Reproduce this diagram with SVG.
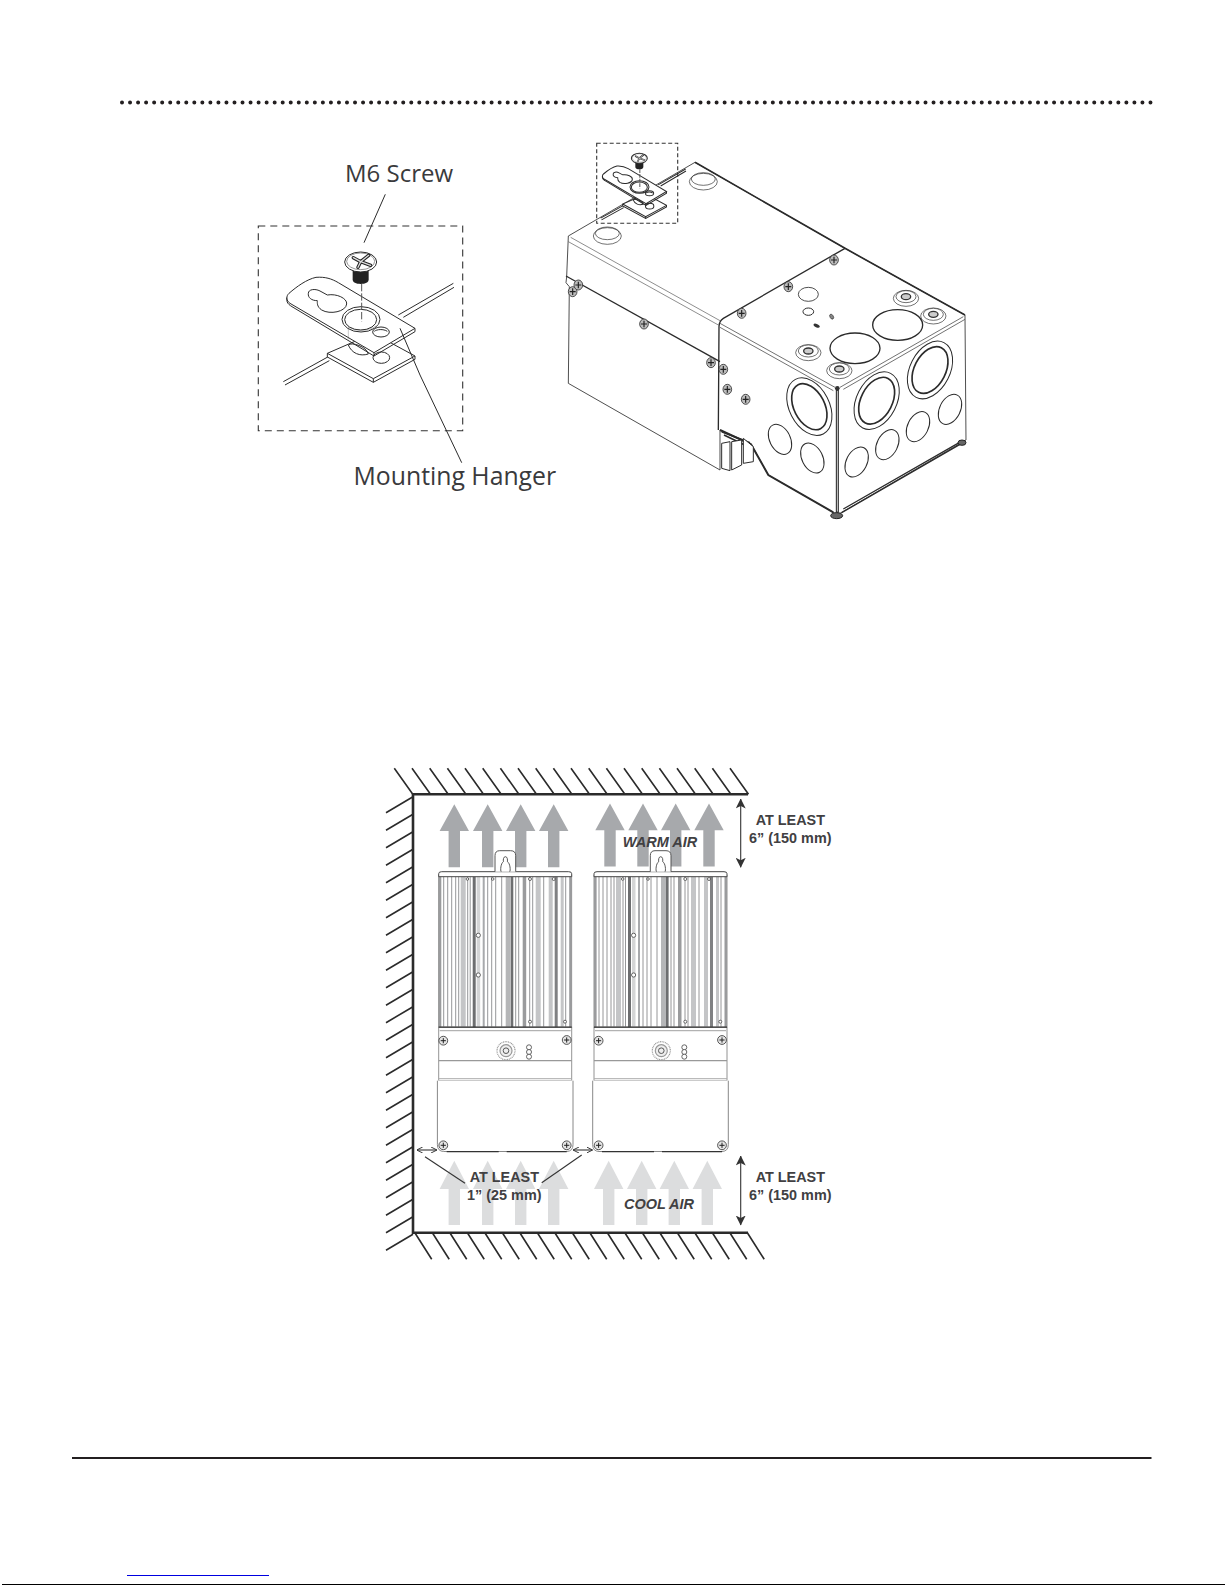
<svg xmlns="http://www.w3.org/2000/svg" xmlns:xlink="http://www.w3.org/1999/xlink" width="1225" height="1585" viewBox="0 0 1225 1585">
<style>
.o{fill:none;stroke:#2b2b2b}
.w{fill:#fff;stroke:#2b2b2b}
.lt{fill:none;stroke:#555}
.lab{font-family:"Open Sans","Noto Sans",sans-serif;fill:#3a3a3c}
.b{font-family:"Liberation Sans",Arial,sans-serif;font-weight:bold;font-size:14.4px;fill:#414042;text-anchor:middle}
.i{font-style:italic;font-size:14.5px}
.warm{fill:#a7a9ac}
.cool{fill:#dcddde}
.hatch{stroke:#2b2b2b;stroke-width:1.6;fill:none}
.wall{stroke:#2b2b2b;stroke-width:2.6;fill:none}
.dim{stroke:#333;stroke-width:1.1;fill:none}
.fin{stroke:#8a8b8d;stroke-width:.9;fill:none}
</style>
<defs>
<marker id="ah" viewBox="0 0 10 10" refX="9.5" refY="5" markerWidth="10" markerHeight="10" markerUnits="userSpaceOnUse" orient="auto-start-reverse"><path d="M0,0 L10,5 L0,10 L2.5,5 Z" fill="#333"/></marker>
<marker id="ahs" viewBox="0 0 10 10" refX="9.5" refY="5" markerWidth="6" markerHeight="6" markerUnits="userSpaceOnUse" orient="auto-start-reverse"><path d="M0,0 L10,5 L0,10" fill="none" stroke="#333" stroke-width="1.6"/></marker>
<path id="up" d="M0,0 L14.7,26.7 L5.7,26.7 L5.7,63 L-5.7,63 L-5.7,26.7 L-14.7,26.7 Z"/>
<path id="upc" d="M0,0 L14.7,28.3 L5.7,28.3 L5.7,64.3 L-5.7,64.3 L-5.7,28.3 L-14.7,28.3 Z"/>
<g id="hw"><ellipse cx="0" cy="0" rx="38" ry="24" class="w" stroke-width="2"/><ellipse cx="0" cy="-5" rx="30" ry="18" class="w" stroke-width="2"/><ellipse cx="0" cy="-5" rx="14" ry="9" fill="#ccc" stroke="#333" stroke-width="4"/></g>
<g id="sc"><ellipse rx="13" ry="15" fill="#bbb" stroke="#333" stroke-width="2.500"/><path d="M-9,0H9M0,-10V10" stroke="#222" stroke-width="3.500"/></g>
<g id="hanger">
<path class="o" d="M475,555 L640,460 M490,562 L642,472 M130,755 L265,680 M135,765 L268,692"/>
<path class="w" d="M262,670 L262,681 L400,757 L525,688 L525,678 L400,610 Z"/>
<path class="o" d="M262,670 L400,746 L525,678 M400,746 V757"/>
<path class="w" d="M325,645 C335,635 380,650 385,672 C360,680 335,670 325,645 Z"/>
<ellipse class="w" cx="424" cy="683" rx="25" ry="17"/>
<path class="w" d="M147,490 C170,470 200,448 228,442 C255,440 275,446 295,458 L525,595 L402,668 L150,520 C138,512 138,498 147,490 Z"/>
<path class="o" d="M140,503 L141,514 C143,522 150,526 156,530 L402,678 L525,605 L525,595 M402,668 V678"/>
<path class="o" d="M205,490 C205,478 225,475 240,483 L262,495 C290,490 322,505 320,522 C318,545 270,555 245,540 C230,530 232,518 232,512 C215,512 203,503 205,490 Z"/>
<ellipse class="o" cx="363" cy="568" rx="57" ry="38"/>
<ellipse class="o" cx="362" cy="569" rx="48" ry="31"/>
<path class="lt" d="M325,590 V628 M325,590 C345,605 385,605 408,588" stroke-width="1"/>
<ellipse class="w" cx="423" cy="606" rx="25" ry="15"/>
<path class="o" d="M403,604 C410,598 430,596 442,604"/>
<path d="M365,462 V575" class="lt" stroke-dasharray="22 6"/>
<path d="M338,420 H386 V448 C386,458 376,462 362,462 C348,462 338,458 338,448 Z" fill="#222"/>
<ellipse class="w" cx="362" cy="396" rx="48" ry="30"/>
<ellipse class="o" cx="362" cy="394" rx="42" ry="25" stroke-width="1.500"/>
<path d="M340,383 L362,395 L386,376 M362,395 L354,412 M362,395 L392,406" fill="none" stroke="#222" stroke-width="10" stroke-linejoin="round" stroke-linecap="round"/>
<path d="M340,383 L362,395 L386,376 M362,395 L354,412 M362,395 L392,406" fill="none" stroke="#ddd" stroke-width="4" stroke-linejoin="round" stroke-linecap="round"/>
</g>
<g id="inv">
<rect x="0" y="4" width="133" height="151.5" fill="#fff" stroke="#777" stroke-width=".8"/>
<g fill="#9a9b9d">
<rect x="0" y="4.5" width="2.6" height="151"/><rect x="34" y="4.5" width="3" height="151" fill="#6d6e70"/><rect x="72" y="4.5" width="2.600" height="151" fill="#6d6e70"/><rect x="84" y="4.5" width="3.500" height="151"/><rect x="116" y="4.5" width="3" height="151" fill="#808183"/><rect x="130.500" y="4.500" width="2.500" height="151"/>
<rect x="22" y="4.5" width="5" height="151" fill="#c4c5c7"/><rect x="67" y="4.5" width="5" height="151" fill="#b5b6b8"/><rect x="97" y="4.5" width="5" height="151" fill="#c4c5c7"/><rect x="110" y="4.5" width="4" height="151" fill="#c4c5c7"/><rect x="38" y="4.5" width="3.500" height="151" fill="#d4d5d6"/><rect x="44" y="4.5" width="2" height="151" fill="#a7a9ac"/><rect x="122" y="4.5" width="3" height="151" fill="#c4c5c7"/>
</g>
<path class="fin" d="M5,4.500V155M9,4.500V155M13,4.500V155M17,4.500V155M20,4.500V155M29,4.500V155M31.500,4.500V155M49,4.500V155M53,4.500V155M57,4.500V155M63,4.500V155M77,4.500V155M80,4.500V155M91,4.500V155M94,4.500V155M105,4.500V155M127,4.500V155"/>
<path d="M0,5 V2 Q0,0 3,0 H130 Q133,0 133,2 V5 Z" fill="#fff" stroke="#444"/>
<path d="M56.300,0 V-16 Q56.300,-21 61,-21 H72 Q77,-21 77,-16 V0" fill="#fff" stroke="#555"/>
<path d="M66.700,-15 C64.700,-15 64.400,-12 64.700,-10 C62,-8.500 61.500,-1 62.500,0 M66.700,-15 C68.700,-15 69,-12 68.700,-10 C71.500,-8.500 72,-1 71,0" fill="none" stroke="#444" stroke-width=".9"/>
<g fill="#fff" stroke="#444" stroke-width=".8"><circle cx="28.700" cy="7.300" r="1.300"/><circle cx="54" cy="7.300" r="1.300"/><circle cx="91.300" cy="7.300" r="1.500"/><circle cx="115" cy="7.300" r="1.500"/><circle cx="39.600" cy="63.600" r="2.100"/><circle cx="39.600" cy="103.300" r="2.100"/><circle cx="91.300" cy="150" r="1.500"/><circle cx="126.300" cy="150" r="1.500"/></g>
<path d="M0,155.500 V209 M133,155.500 V209" stroke="#777" stroke-width=".8" fill="#fff"/>
<path d="M0,155.500 H133" stroke="#333" stroke-width="1.300" fill="none"/>
<path d="M1,159 H132" stroke="#888" stroke-width=".8" fill="none"/>
<path d="M0,189 H133" stroke="#999" stroke-width="1.200"/>
<path d="M0,207 H133 M0,209 H133" stroke="#aaa" stroke-width="1"/>
<path d="M-1.300,209 V273 Q-1.300,279.500 5,279.800 H128 Q134.300,279.500 134.300,273 V209" fill="#fff" stroke="#888" stroke-width="1"/>
<path d="M8,280 H60 M68,280 H128" stroke="#333" stroke-width="1.300"/>
<g id="scs" fill="#e5e5e5" stroke="#444" stroke-width=".9"><circle cx="4.600" cy="169" r="4.400"/><circle cx="128" cy="168.300" r="4.400"/><circle cx="4.600" cy="273.600" r="4.400"/><circle cx="128" cy="273.600" r="4.400"/></g>
<path d="M2,169H7.200M4.600,166.400V171.600M125.400,168.300H130.600M128,165.700V170.900M2,273.600H7.200M4.600,271V276.200M125.400,273.600H130.600M128,271V276.200" stroke="#222" stroke-width="1"/>
<circle cx="67.300" cy="179" r="9" fill="#fff" stroke="#999" stroke-width="1.200" stroke-dasharray="1 .7"/><circle cx="67.300" cy="179" r="6" fill="#eee" stroke="#999" stroke-width="1.200"/><circle cx="67.300" cy="179" r="2.800" fill="none" stroke="#555"/>
<g fill="#fff" stroke="#555" stroke-width=".9"><circle cx="90.300" cy="175.600" r="2.500"/><circle cx="90.300" cy="180.300" r="2.500"/><circle cx="90.300" cy="185" r="2.500"/></g>
</g>
</defs>
<rect width="1225" height="1585" fill="#fff"/>

<g id="page-rules">
<line x1="122" y1="102.400" x2="1150.500" y2="102.400" stroke="#231f20" stroke-width="4" stroke-linecap="round" stroke-dasharray="0 8.035"/>
<line x1="72" y1="1458" x2="1151.500" y2="1458" stroke="#231f20" stroke-width="2"/>
<line x1="127" y1="1575.500" x2="269" y2="1575.500" stroke="#0000e0" stroke-width="1"/>
<line x1="2" y1="1584.500" x2="1225" y2="1584.500" stroke="#000" stroke-width="1"/>
</g>

<g id="detail-inset">
<rect x="258.300" y="226" width="204.400" height="204.700" fill="none" stroke="#333" stroke-width="1.100" stroke-dasharray="7 5"/>
<use xlink:href="#hanger" href="#hanger" transform="translate(240 130) scale(.33333)" stroke-width="3"/>
</g>

<g id="box" transform="translate(550 130) scale(.33333)" stroke-width="3">
<path class="w" d="M55,318 L435,97 L885,355 L1245,555 L1248,930 L870,1150 H855 L655,1035 L605,945 L510,900 L510,1020 L55,760 L58,470 L48,458 L50,440 Z" stroke-width="2.500"/>
<path class="o" d="M435,97 L885,355 L1245,555" stroke-width="5"/>
<path class="lt" d="M55,335 L505,585 M62,322 L510,572" stroke-width="2"/>
<path class="o" d="M885,355 L520,565 Q507,573 507,590 L505,900" stroke-width="4"/>
<path class="o" d="M48,438 L510,695" stroke-width="4"/>
<path class="lt" d="M510,580 L855,772 M510,592 L850,782 M870,772 L1240,560 M880,778 L1245,568" stroke-width="2.500"/>
<path class="o" d="M510,900 L603,943 L655,1035 L850,1147" stroke-width="6"/>
<path class="o" d="M875,1148 L1235,940 M880,1137 L1238,932" stroke-width="4"/>
<path class="o" d="M515,905 L600,938 M522,915 L595,950" stroke-width="5"/>
<path class="w" d="M515,940 V1015 L540,1022 V935 Z M545,935 V1020 L575,1005 V930 Z M580,925 V1000 L610,995 V950 Z" stroke-width="3"/>
<line x1="862" y1="778" x2="862" y2="1148" stroke="#222" stroke-width="9"/>
<line x1="862" y1="782" x2="862" y2="1145" stroke="#fff" stroke-width="2.500"/>
<circle cx="862" cy="775" r="7" fill="#333"/>
<ellipse cx="860" cy="1157" rx="18" ry="9" fill="#666" stroke="#222" stroke-width="3"/>
<ellipse cx="1236" cy="938" rx="12" ry="8" fill="#666" stroke="#222" stroke-width="3"/>
<g class="w" stroke-width="3">
<ellipse cx="778" cy="830" rx="60" ry="92" transform="rotate(-27 778 830)" class="w"/>
<ellipse cx="778" cy="830" rx="46" ry="74" transform="rotate(-27 778 830)" class="o" stroke-width="5"/>
<ellipse cx="980" cy="812" rx="60" ry="92" transform="rotate(27 980 812)" class="w"/>
<ellipse cx="980" cy="812" rx="47" ry="75" transform="rotate(27 980 812)" class="o" stroke-width="5"/>
<ellipse cx="1140" cy="720" rx="60" ry="92" transform="rotate(27 1140 720)" class="w"/>
<ellipse cx="1140" cy="720" rx="47" ry="75" transform="rotate(27 1140 720)" class="o" stroke-width="5"/>
<ellipse cx="690" cy="928" rx="31" ry="48" transform="rotate(-27 690 928)" class="w"/>
<ellipse cx="787" cy="984" rx="31" ry="48" transform="rotate(-27 787 984)" class="w"/>
<ellipse cx="920" cy="996" rx="31" ry="48" transform="rotate(27 920 996)" class="w"/>
<ellipse cx="1012" cy="944" rx="31" ry="48" transform="rotate(27 1012 944)" class="w"/>
<ellipse cx="1104" cy="890" rx="31" ry="48" transform="rotate(27 1104 890)" class="w"/>
<ellipse cx="1200" cy="838" rx="31" ry="48" transform="rotate(27 1200 838)" class="w"/>
</g>
<ellipse class="w" cx="915" cy="655" rx="75" ry="46" stroke-width="4"/>
<ellipse class="w" cx="1043" cy="585" rx="75" ry="46" stroke-width="4"/>
<use xlink:href="#hw" href="#hw" transform="translate(775 668)"/>
<use xlink:href="#hw" href="#hw" transform="translate(868 722)"/>
<use xlink:href="#hw" href="#hw" transform="translate(1068 505)"/>
<use xlink:href="#hw" href="#hw" transform="translate(1150 558)"/>
<ellipse class="w" cx="460" cy="155" rx="42" ry="25" stroke-width="2"/><ellipse class="o" cx="460" cy="147" rx="36" ry="19" stroke-width="2"/>
<ellipse class="w" cx="172" cy="318" rx="42" ry="25" stroke-width="2"/><ellipse class="o" cx="172" cy="310" rx="36" ry="19" stroke-width="2"/>
<ellipse class="w" cx="775" cy="493" rx="30" ry="21" stroke-width="2.500"/>
<ellipse class="w" cx="775" cy="545" rx="16" ry="11" stroke-width="3"/>
<ellipse cx="845" cy="560" rx="5" ry="8" transform="rotate(-30 845 560)" fill="#888" stroke="#333" stroke-width="2"/>
<ellipse cx="800" cy="587" rx="10" ry="5" transform="rotate(25 800 587)" fill="#333"/>
<use xlink:href="#sc" href="#sc" x="852" y="390"/><use xlink:href="#sc" href="#sc" x="715" y="470"/><use xlink:href="#sc" href="#sc" x="575" y="550"/><use xlink:href="#sc" href="#sc" x="68" y="485"/><use xlink:href="#sc" href="#sc" x="85" y="465"/><use xlink:href="#sc" href="#sc" x="282" y="582"/><use xlink:href="#sc" href="#sc" x="483" y="698"/><use xlink:href="#sc" href="#sc" x="520" y="718"/><use xlink:href="#sc" href="#sc" x="532" y="778"/><use xlink:href="#sc" href="#sc" x="587" y="808"/>
</g>

<g id="detail-on-box">
<rect x="596.700" y="143.300" width="81" height="80" fill="none" stroke="#333" stroke-width="1.100" stroke-dasharray="4 2.500"/>
<use xlink:href="#hanger" href="#hanger" transform="translate(579 92.330) scale(.16667)" stroke-width="6"/>
</g>

<g id="labels-top">
<path class="o" stroke-width="1" d="M385.300,194.300 L364,242.700 M400,328.300 L420,375 L461.700,462.700"/>
<text class="lab" font-size="24" x="345" y="181.700">M6 Screw</text>
<text class="lab" font-size="24.800" x="353.500" y="485">Mounting Hanger</text>
</g>

<g id="walls">
<path class="wall" d="M748,794.300 H413 V1232.700 H748"/>
<path class="hatch" d="M394.300,768.300l18.500,26M412,768.300l18.500,26M429.700,768.300l18.500,26M447.400,768.300l18.500,26M465,768.300l18.500,26M482.700,768.300l18.500,26M500.400,768.300l18.500,26M518,768.300l18.500,26M535.700,768.300l18.500,26M553.400,768.300l18.500,26M571,768.300l18.500,26M588.700,768.300l18.500,26M606.400,768.300l18.500,26M624,768.300l18.500,26M641.700,768.300l18.500,26M659.400,768.300l18.500,26M677,768.300l18.500,26M694.700,768.300l18.500,26M712.400,768.300l18.500,26M730,768.300l18.500,26"/>
<path class="hatch" d="M415,1233l16.700,26.300M432.500,1233l16.700,26.300M450,1233l16.700,26.300M467.500,1233l16.700,26.300M485,1233l16.700,26.300M502.500,1233l16.700,26.300M520,1233l16.700,26.300M537.500,1233l16.700,26.300M555,1233l16.700,26.300M572.500,1233l16.700,26.300M590,1233l16.700,26.300M607.500,1233l16.700,26.300M625,1233l16.700,26.300M642.500,1233l16.700,26.300M660,1233l16.700,26.300M677.500,1233l16.700,26.300M695,1233l16.700,26.300M712.500,1233l16.700,26.300M730,1233l16.700,26.300M747.500,1233l16.700,26.300"/>
<path class="hatch" d="M413,796.700l-27,16M413,814.200l-27,16M413,831.700l-27,16M413,849.200l-27,16M413,866.700l-27,16M413,884.200l-27,16M413,901.700l-27,16M413,919.200l-27,16M413,936.700l-27,16M413,954.200l-27,16M413,971.700l-27,16M413,989.200l-27,16M413,1006.700l-27,16M413,1024.200l-27,16M413,1041.700l-27,16M413,1059.200l-27,16M413,1076.700l-27,16M413,1094.200l-27,16M413,1111.700l-27,16M413,1129.200l-27,16M413,1146.700l-27,16M413,1164.200l-27,16M413,1181.700l-27,16M413,1199.200l-27,16M413,1216.700l-27,16M413,1234.200l-27,16"/>
</g>

<g id="warm-arrows" class="warm">
<use xlink:href="#up" href="#up" x="454.300" y="804.300"/><use xlink:href="#up" href="#up" x="487.700" y="804.300"/><use xlink:href="#up" href="#up" x="520.700" y="804.300"/><use xlink:href="#up" href="#up" x="553.700" y="804.300"/>
<use xlink:href="#up" href="#up" x="610" y="803.500"/><use xlink:href="#up" href="#up" x="643" y="803.500"/><use xlink:href="#up" href="#up" x="675.700" y="803.500"/><use xlink:href="#up" href="#up" x="709" y="803.500"/>
</g>
<g id="cool-arrows" class="cool">
<use xlink:href="#upc" href="#upc" x="454.300" y="1160.700"/><use xlink:href="#upc" href="#upc" x="487.700" y="1160.700"/><use xlink:href="#upc" href="#upc" x="520.700" y="1160.700"/><use xlink:href="#upc" href="#upc" x="553.700" y="1160.700"/>
<use xlink:href="#upc" href="#upc" x="608.700" y="1160.700"/><use xlink:href="#upc" href="#upc" x="641.700" y="1160.700"/><use xlink:href="#upc" href="#upc" x="674.300" y="1160.700"/><use xlink:href="#upc" href="#upc" x="707.300" y="1160.700"/>
</g>

<g id="unit-left" transform="translate(438.700 871.700)"><use xlink:href="#inv" href="#inv"/></g>
<g id="unit-right" transform="translate(594 871.700)"><use xlink:href="#inv" href="#inv"/></g>

<g id="connectors">
<line class="dim" x1="740.700" y1="799" x2="740.700" y2="867.300" marker-start="url(#ah)" marker-end="url(#ah)"/>
<line class="dim" x1="740.700" y1="1156" x2="740.700" y2="1225" marker-start="url(#ah)" marker-end="url(#ah)"/>
<line class="dim" x1="417" y1="1150" x2="436.700" y2="1150" marker-start="url(#ahs)" marker-end="url(#ahs)"/>
<line class="dim" x1="573.300" y1="1150" x2="592.300" y2="1150" marker-start="url(#ahs)" marker-end="url(#ahs)"/>
<line class="dim" x1="425" y1="1156.700" x2="465" y2="1183.300"/>
<line class="dim" x1="581.700" y1="1155" x2="541.700" y2="1182.700"/>
</g>

<g id="labels-bottom">
<text class="b" x="790.300" y="825">AT LEAST</text>
<text class="b" x="790.300" y="843.300">6” (150 mm)</text>
<text class="b" x="790.300" y="1181.700">AT LEAST</text>
<text class="b" x="790.300" y="1200">6” (150 mm)</text>
<text class="b" x="504.300" y="1181.700">AT LEAST</text>
<text class="b" x="504.300" y="1200">1” (25 mm)</text>
<text class="b i" x="660" y="847.300">WARM AIR</text>
<text class="b i" x="659" y="1209.300">COOL AIR</text>
</g>
</svg>
